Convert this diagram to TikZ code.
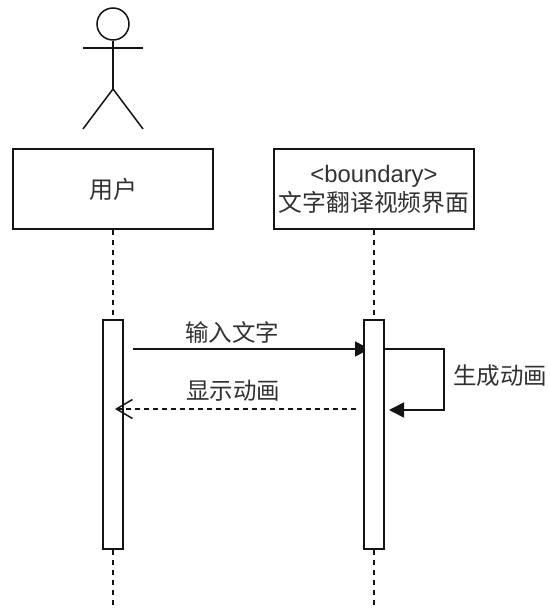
\documentclass[tikz,border=0pt]{standalone}
\usepackage{fontspec}
\setmainfont{Liberation Sans}
\newfontfamily\cjk{Noto Sans CJK SC}
\usetikzlibrary{arrows.meta,calc}
\definecolor{ink}{RGB}{20,20,20}
\definecolor{txt}{RGB}{50,50,50}
\tikzset{
  x=1pt,y=-1pt,
  line/.style={draw=ink,line width=1.5pt},
  lifebox/.style={line,fill=white,minimum width=200pt,minimum height=80pt,inner sep=0pt,align=center,text=txt,font=\fontsize{23}{28}\selectfont},
  activation/.style={line,fill=white,minimum width=20pt,minimum height=229pt,inner sep=0pt},
  lifeline/.style={line,dash pattern=on 5pt off 5pt},
  lbl/.style={text=txt,inner sep=0pt,font=\cjk\fontsize{23.5}{28}\selectfont},
  solidtip/.style={-{Triangle[length=15pt,width=15pt]}},
  opentip/.style={-{Straight Barb[length=16pt,width=19pt]}},
}
\begin{document}
\begin{tikzpicture}
\useasboundingbox (0,0) rectangle (549,609);
\fill[white] (0,0) rectangle (549,609);
% lifelines
\coordinate (endA) at (113,609);
\coordinate (endB) at (374,609);
\node[lifebox] (user) at (113,189) {\cjk\fontsize{24}{28}\selectfont 用户};
\node[lifebox] (bound) at (374,189) {\fontsize{23.8}{28}\selectfont <boundary>\\[1pt]\cjk\fontsize{23.8}{28}\selectfont 文字翻译视频界面};
\draw[lifeline] (user.south) -- (endA);
\draw[lifeline] (bound.south) -- (endB);
% first message lies under the activation bar
\coordinate (m1s) at (133,349);
\coordinate (m1e) at (370,349);
\draw[line,solidtip] (m1s) -- (m1e);
\node[activation] (actA) at (113,434.5) {};
\node[activation] (actB) at (374,434.5) {};
% actor
\node[circle,line,fill=white,minimum size=32pt,inner sep=0pt] (head) at (113,24) {};
\coordinate (hip) at (113,89);
\coordinate (armL) at (83,48);
\coordinate (armR) at (143,48);
\coordinate (legL) at (83,129);
\coordinate (legR) at (143,129);
\draw[line] (head.south) -- (hip);
\draw[line] (armL) -- (armR);
\draw[line] (legL) -- (hip) -- (legR);
% messages
\coordinate (selfA) at (444,349);
\coordinate (selfB) at (444,410);
\coordinate (selfE) at (389,410);
\draw[line,solidtip] (actB.east |- m1e) -- (selfA) -- (selfB) -- (selfE);
\coordinate (m3s) at (356,409);
\coordinate (m3e) at (115,409);
\draw[line,dash pattern=on 5pt off 4pt,opentip] (m3s) -- (m3e);
\node[lbl] (l1) at (232,332) {输入文字};
\node[lbl] (l2) at (233,391) {显示动画};
\node[lbl] (l3) at (500,376) {生成动画};
\end{tikzpicture}
\end{document}
